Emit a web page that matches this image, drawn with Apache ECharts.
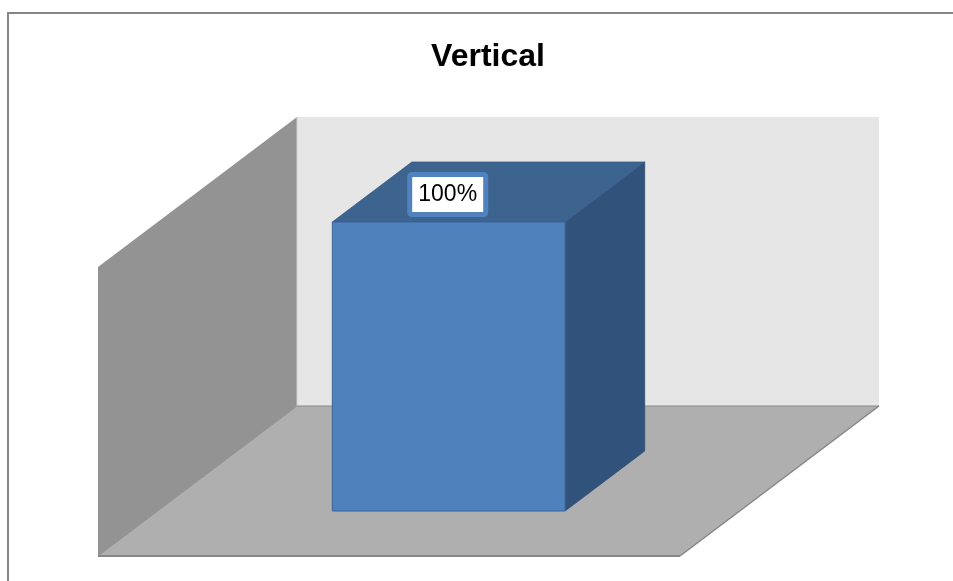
<!DOCTYPE html>
<html>
<head>
<meta charset="utf-8">
<script src="https://cdn.jsdelivr.net/npm/echarts@6/dist/echarts.min.js"></script>
<style>
  html, body { margin: 0; padding: 0; background: #ffffff; }
  #chart { width: 953px; height: 581px; }
</style>
</head>
<body>
<div id="chart"></div>
<script>
// Chart data
const categories = [''];
const values = [1];            // share, 1 = 100%
const chartTitle = 'Vertical';

// Oblique projection of the depth axis (pixels for the full floor depth)
const DEPTH = { x: 199, y: -150 };
const BAR_WIDTH_FRAC = 0.4;    // bar width as a share of the category band
const BAR_FRONT = 0.3;         // bar front face position along the depth
const BAR_BACK = 0.7;          // bar back face position along the depth

const FONT = '"Liberation Sans", Arial, sans-serif';

function pct(v) { return Math.round(v * 100) + '%'; }

function poly(points, fill, stroke, lineWidth) {
  return {
    type: 'polygon',
    shape: { points: points },
    style: { fill: fill, stroke: stroke || null, lineWidth: lineWidth || 0 }
  };
}
function seg(p1, p2, stroke, lineWidth) {
  return {
    type: 'line',
    shape: { x1: p1[0], y1: p1[1], x2: p2[0], y2: p2[1] },
    style: { stroke: stroke, lineWidth: lineWidth }
  };
}

// Walls and floor of the plot box, built from the grid rectangle
function renderWalls(params, api) {
  const cs = params.coordSys;
  const x0 = cs.x, x1 = cs.x + cs.width;
  const yT = cs.y, yB = cs.y + cs.height;
  const dx = DEPTH.x, dy = DEPTH.y;
  return {
    type: 'group',
    children: [
      // back wall
      poly([[x0 + dx, yT + dy], [x1 + dx, yT + dy], [x1 + dx, yB + dy], [x0 + dx, yB + dy]], '#e6e6e6'),
      // side wall
      poly([[x0, yB], [x0 + dx, yB + dy], [x0 + dx, yT + dy], [x0, yT]], '#939393'),
      seg([x0 + dx, yT + dy], [x0 + dx, yB + dy], '#cfcfcf', 1),
      // floor
      poly([[x0, yB], [x1, yB], [x1 + dx, yB + dy], [x0 + dx, yB + dy]], '#afafaf'),
      seg([x0 + dx, yB + dy], [x1 + dx, yB + dy], '#8a8a8a', 1.2),
      seg([x0, yB], [x0 + dx, yB + dy], '#8f8f8f', 1),
      seg([x1, yB], [x1 + dx, yB + dy], '#868686', 1.5),
      seg([x0, yB], [x1, yB], '#868686', 2.2)
    ]
  };
}

// 3D bar: front, top and right faces plus the value label
function renderBar(params, api) {
  const cat = api.value(0);
  const v = api.value(1);
  const topPt = api.coord([cat, v]);
  const botPt = api.coord([cat, 0]);
  const band = api.size([1, 0])[0];
  const w = band * BAR_WIDTH_FRAC;
  const fx = DEPTH.x * BAR_FRONT, fy = DEPTH.y * BAR_FRONT;
  const bx = DEPTH.x * (BAR_BACK - BAR_FRONT), by = DEPTH.y * (BAR_BACK - BAR_FRONT);
  const L = topPt[0] - w / 2 + fx, R = topPt[0] + w / 2 + fx;
  const T = topPt[1] + fy, B = botPt[1] + fy;
  const cx = (L + R) / 2;
  const text = pct(v);
  return {
    type: 'group',
    children: [
      // right face
      poly([[R, T], [R + bx, T + by], [R + bx, B + by], [R, B]], '#31527a', '#2e4e74', 0.8),
      // top face
      poly([[L, T], [L + bx, T + by], [R + bx, T + by], [R, T]], '#3d638f', '#385b85', 0.8),
      // front face
      {
        type: 'rect',
        shape: { x: L, y: T, width: R - L, height: B - T },
        style: { fill: '#4f81bd', stroke: '#3a639a', lineWidth: 1 }
      },
      // value label box
      {
        type: 'rect',
        shape: { x: cx - 39, y: T - 47.5, width: 76, height: 40, r: 2 },
        style: { fill: '#ffffff', stroke: '#5082c0', lineWidth: 5 }
      },
      {
        type: 'text',
        x: cx - 1,
        y: T - 27.5,
        style: {
          text: text,
          align: 'center',
          verticalAlign: 'middle',
          font: '23px ' + FONT,
          fill: '#000000'
        }
      }
    ]
  };
}

const chart = echarts.init(document.getElementById('chart'), null, { renderer: 'canvas' });

chart.setOption({
  animation: false,
  backgroundColor: '#ffffff',
  graphic: [
    {
      type: 'rect',
      z: -10,
      shape: { x: 8, y: 13, width: 1000, height: 1000 },
      style: { fill: 'none', stroke: '#868686', lineWidth: 2 }
    },
    {
      type: 'text',
      x: 488,
      y: 57,
      style: {
        text: chartTitle,
        align: 'center',
        verticalAlign: 'middle',
        font: 'bold 32px ' + FONT,
        fill: '#000000'
      }
    }
  ],
  grid: { left: 98, top: 267, width: 582, height: 289, containLabel: false },
  xAxis: {
    type: 'category',
    data: categories,
    show: false
  },
  yAxis: {
    type: 'value',
    min: 0,
    max: 1,
    show: false
  },
  series: [
    {
      type: 'custom',
      z: 1,
      renderItem: renderWalls,
      data: [[0, 0]],
      silent: true
    },
    {
      type: 'custom',
      z: 2,
      renderItem: renderBar,
      data: categories.map((c, i) => [i, values[i]])
    }
  ]
});
</script>
</body>
</html>
